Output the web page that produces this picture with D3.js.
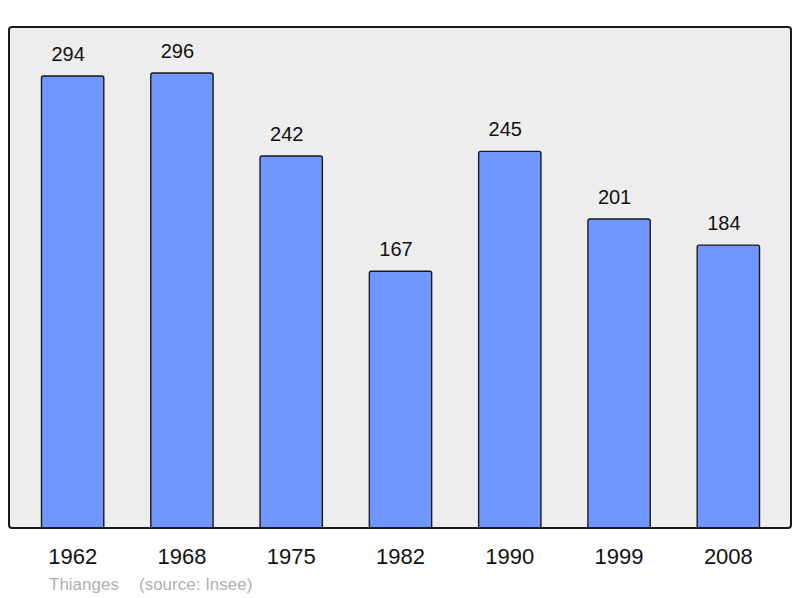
<!DOCTYPE html>
<html lang="fr">
<head>
<meta charset="UTF-8">
<title>Thianges population</title>
<script src="https://d3js.org/d3.v7.min.js"></script>
<style>
  body { margin: 0; background: #fff; }
  svg { font-family: "Liberation Sans", Arial, sans-serif; display: block; }
</style>
</head>
<body>
<div id="chart"></div>
<script>
// data
var years = ['1962', '1968', '1975', '1982', '1990', '1999', '2008'];
var population = [294, 296, 242, 167, 245, 201, 184];
var place = 'Thianges';
var source = '(source: Insee)';

var W = 800, H = 598;
var frame = {left: 9, top: 27, right: 791, bottom: 528};

var svg = d3.select('#chart').append('svg')
    .attr('width', W)
    .attr('height', H);

// plot background
svg.append('rect')
    .attr('x', frame.left)
    .attr('y', frame.top)
    .attr('width', frame.right - frame.left)
    .attr('height', frame.bottom - frame.top)
    .attr('rx', 3)
    .attr('fill', '#ededed');

var x = d3.scaleBand()
    .domain(years)
    .range([18, 783])
    .paddingInner(0.43)
    .paddingOuter(0.215);

var y = d3.scaleLinear()
    .domain([0, 294])
    .range([frame.bottom, 76]);

// clip so bar bottoms stop at the frame
svg.append('clipPath').attr('id', 'plot')
    .append('rect')
    .attr('x', frame.left)
    .attr('y', frame.top)
    .attr('width', frame.right - frame.left)
    .attr('height', frame.bottom - frame.top);

svg.append('g').attr('clip-path', 'url(#plot)')
    .selectAll('rect.bar')
    .data(population)
    .enter().append('rect')
    .attr('class', 'bar')
    .attr('x', (d, i) => x(years[i]))
    .attr('y', d => y(d))
    .attr('width', x.bandwidth())
    .attr('height', d => y(0) - y(d) + 4)
    .attr('rx', 2)
    .attr('fill', '#7096ff')
    .attr('stroke', '#1a1a1a')
    .attr('stroke-width', 1.4);

svg.selectAll('text.value')
    .data(population)
    .enter().append('text')
    .attr('class', 'value')
    .attr('x', (d, i) => x(years[i]) + x.bandwidth() / 2 - 4.5)
    .attr('y', d => y(d) - 15)
    .attr('text-anchor', 'middle')
    .attr('font-size', 20)
    .attr('fill', '#111')
    .text(d => d);

// frame border drawn over the bar bottoms
svg.append('rect')
    .attr('x', frame.left)
    .attr('y', frame.top)
    .attr('width', frame.right - frame.left)
    .attr('height', frame.bottom - frame.top)
    .attr('rx', 3)
    .attr('fill', 'none')
    .attr('stroke', '#1a1a1a')
    .attr('stroke-width', 2);

// year labels via an axis, with domain and ticks hidden
var xAxis = svg.append('g')
    .attr('transform', 'translate(0,' + frame.bottom + ')')
    .call(d3.axisBottom(x).tickSize(0).tickPadding(20));
xAxis.select('.domain').remove();
xAxis.selectAll('text')
    .attr('font-family', '"Liberation Sans", Arial, sans-serif')
    .attr('font-size', 22)
    .attr('fill', '#111');

svg.append('text')
    .attr('x', 49)
    .attr('y', 590)
    .attr('font-size', 17)
    .attr('fill', '#b0b0b0')
    .text(place);

svg.append('text')
    .attr('x', 139)
    .attr('y', 590)
    .attr('font-size', 17)
    .attr('fill', '#b0b0b0')
    .text(source);
</script>
</body>
</html>
